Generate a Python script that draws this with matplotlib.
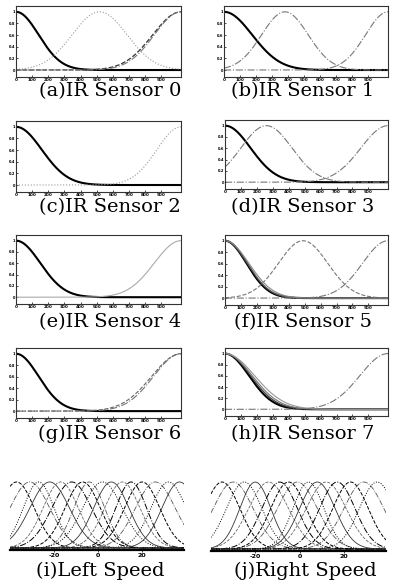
import numpy as np
import matplotlib
matplotlib.use("Agg")
import matplotlib.pyplot as plt

W, H = 397, 587

# ---------------- data: Gaussian membership functions (center, sigma) ----------------
ir_range = (0, 1023)
ir_xticks = [0, 100, 200, 300, 400, 500, 600, 700, 800, 900]
ir_yticks = [0, 0.2, 0.4, 0.6, 0.8, 1.0]

a_centers = [0, 518, 1023, 1023]
a_sigmas = [140, 170, 175, 165]
b_centers = [0, 380, 1023]
b_sigmas = [175, 145, 140]
c_centers = [0, 1023]
c_sigmas = [160, 150]
d_centers = [0, 260, 1023]
d_sigmas = [160, 160, 170]
e_centers = [0, 1023]
e_sigmas = [150, 165]
f_centers = [0, 0, 0, 490, 1023]
f_sigmas = [135, 140, 150, 155, 160]
g_centers = [0, 1023, 1023]
g_sigmas = [140, 170, 182]
h_centers = [0, 0, 0, 0, 1023]
h_sigmas = [150, 160, 170, 185, 176]

speed_range = (-40, 40)
speed_xticks = [-20, 0, 20]
left_centers = [-37, -31, -27, -22, -17, -12, -7, -4, 2, 6, 11, 15, 20, 26, 32, 37]
left_sigmas = [8, 9, 7, 9, 8, 9, 8, 7, 9, 8, 8, 7, 8, 9, 8, 8]
right_centers = [-35, -30, -25, -20, -14, -9, -5, -1, 4, 8, 12, 17, 23, 29, 35]
right_sigmas = [8, 9, 8, 7, 9, 8, 8, 9, 7, 8, 9, 8, 8, 9, 8]

captions = ["(a)IR Sensor 0", "(b)IR Sensor 1", "(c)IR Sensor 2", "(d)IR Sensor 3",
            "(e)IR Sensor 4", "(f)IR Sensor 5", "(g)IR Sensor 6", "(h)IR Sensor 7",
            "(i)Left Speed", "(j)Right Speed"]

# ---------------- styles ----------------
DARK = dict(color="black", lw=1.5, ls="-")
GRAY_DD = dict(color="#777777", lw=0.8, ls="-.")
GRAY_DOT = dict(color="#999999", lw=0.8, ls=":")
DASH = dict(color="#333333", lw=0.9, ls="--")
LIGHT = dict(color="#aaaaaa", lw=0.8, ls="-")

ir_styles = {
    "a": [DARK, GRAY_DOT, DASH, GRAY_DD],
    "b": [DARK, GRAY_DD, GRAY_DD],
    "c": [DARK, GRAY_DOT],
    "d": [DARK, GRAY_DD, GRAY_DD],
    "e": [DARK, LIGHT],
    "f": [DARK, dict(color="#555555", lw=1.0, ls="-"), dict(color="#888888", lw=0.8, ls="-"),
          dict(color="#777777", lw=0.8, ls="--"), GRAY_DD],
    "g": [DARK, GRAY_DD, dict(color="#666666", lw=0.8, ls="--")],
    "h": [DARK, dict(color="#444444", lw=0.9, ls="-"), dict(color="#777777", lw=0.8, ls="-"),
          dict(color="#999999", lw=0.8, ls="-"), GRAY_DD],
}

ir_panels = [
    ("a", a_centers, a_sigmas, (16, 6, 181, 77)),
    ("b", b_centers, b_sigmas, (224, 6, 388, 77)),
    ("c", c_centers, c_sigmas, (16, 121, 181, 192)),
    ("d", d_centers, d_sigmas, (225, 120, 388, 189)),
    ("e", e_centers, e_sigmas, (16, 235, 181, 304)),
    ("f", f_centers, f_sigmas, (225, 235, 388, 305)),
    ("g", g_centers, g_sigmas, (16, 348, 181, 418)),
    ("h", h_centers, h_sigmas, (225, 348, 388, 416)),
]


def rect(l, t, r, b):
    return [l / W, 1 - b / H, (r - l) / W, (b - t) / H]


def gauss(x, c, s):
    return np.exp(-((x - c) ** 2) / (2.0 * s ** 2))


fig = plt.figure(figsize=(W / 100, H / 100), dpi=100)
fig.patch.set_facecolor("white")

x_ir = np.linspace(ir_range[0], ir_range[1], 600)
for key, cs, ss, box in ir_panels:
    ax = fig.add_axes(rect(*box))
    for c, s, st in zip(cs, ss, ir_styles[key]):
        ax.plot(x_ir, gauss(x_ir, c, s), **st)
    ax.set_xlim(*ir_range)
    ax.set_ylim(-0.12, 1.10)
    ax.set_xticks(ir_xticks)
    ax.set_xticklabels([str(v) for v in ir_xticks], fontsize=3, fontweight="bold")
    ax.set_yticks(ir_yticks)
    ax.set_yticklabels([f"{v:g}" for v in ir_yticks], fontsize=2.6, fontweight="bold")
    ax.tick_params(length=1.5, width=0.5, pad=0.8, direction="in")
    for sp in ax.spines.values():
        sp.set_linewidth(0.8)
        sp.set_color("#333333")
        sp.set_linestyle((0, (4, 1)))

speed_styles = [
    dict(color="black", lw=0.7, ls="--"),
    dict(color="#555555", lw=0.6, ls="-."),
    dict(color="black", lw=0.7, ls=":"),
    dict(color="#333333", lw=0.6, ls="-"),
    dict(color="#666666", lw=0.6, ls="--"),
    dict(color="black", lw=0.7, ls="-."),
]

speed_panels = [
    (left_centers, left_sigmas, (10, 478, 184, 550)),
    (right_centers, right_sigmas, (211, 478, 386, 551)),
]
for cs, ss, box in speed_panels:
    ax = fig.add_axes(rect(*box))
    xs = np.linspace(speed_range[0], speed_range[1], 500)
    for i, (c, s) in enumerate(zip(cs, ss)):
        ax.plot(xs, gauss(xs, c, s), **speed_styles[i % len(speed_styles)])
    ax.set_xlim(-40, 39)
    ax.set_ylim(-0.03, 1.06)
    for k in ("top", "left", "right"):
        ax.spines[k].set_visible(False)
    ax.spines["bottom"].set_linewidth(1.6)
    ax.set_yticks([])
    ax.set_xticks(speed_xticks)
    ax.set_xticklabels([str(v) for v in speed_xticks], fontsize=4.5, fontweight="bold")
    ax.tick_params(axis="x", length=1.5, width=0.5, pad=1)

cap_pos = [(110, 91), (303, 91), (110, 207), (303, 207), (110, 322), (303, 322),
           (110, 434), (303, 434), (100, 571), (305, 571)]
for txt, (x, y) in zip(captions, cap_pos):
    fig.text(x / W, 1 - y / H, txt, ha="center", va="center", fontsize=14,
             family="DejaVu Serif")

fig.savefig("out.png", dpi=100, facecolor="white")
